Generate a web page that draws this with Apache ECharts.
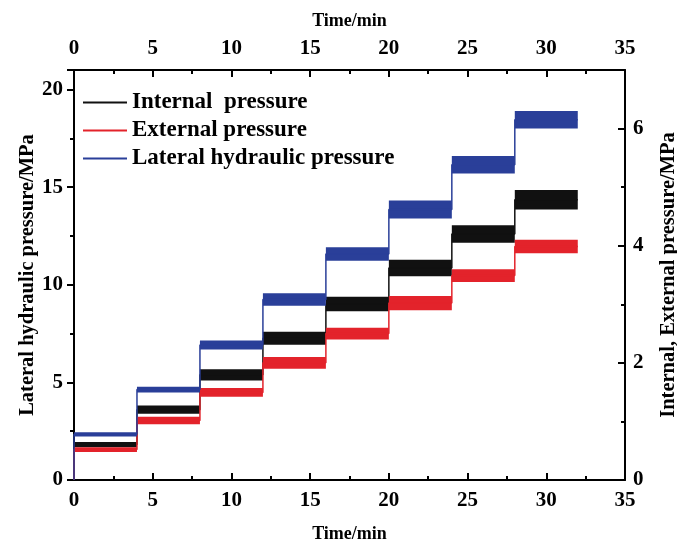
<!DOCTYPE html>
<html>
<head>
<meta charset="utf-8">
<script src="https://cdn.jsdelivr.net/npm/echarts@6/dist/echarts.min.js"></script>
<style>html,body{margin:0;padding:0;background:#fff}#c{width:677px;height:547px}</style>
</head>
<body>
<div id="c"></div>
<script>
// Plateau time spans (min)
const stepStart = [0, 4, 8, 12, 16, 20, 24, 28];
const stepEnd   = [4, 8, 12, 16, 20, 24, 28, 32];
// Lateral hydraulic pressure (MPa, left axis): band low / high per plateau
const lateralLow  = [2.23, 4.48, 6.68, 8.92, 11.23, 13.40, 15.70, 18.00];
const lateralHigh = [2.45, 4.78, 7.15, 9.57, 11.92, 14.32, 16.60, 18.90];
// Internal pressure (MPa, right axis)
const internalLow  = [0.56, 1.13, 1.70, 2.31, 2.88, 3.48, 4.05, 4.62];
const internalHigh = [0.65, 1.27, 1.89, 2.53, 3.13, 3.76, 4.35, 4.95];
// External pressure (MPa, right axis)
const externalLow  = [0.48, 0.95, 1.42, 1.90, 2.40, 2.90, 3.38, 3.87];
const externalHigh = [0.56, 1.08, 1.57, 2.10, 2.60, 3.14, 3.60, 4.10];
// Axis ticks
const timeTicks = [0, 5, 10, 15, 20, 25, 30, 35];
const leftTicks = [0, 5, 10, 15, 20];
const rightTicks = [0, 2, 4, 6];

const names = ['Internal  pressure', 'External pressure', 'Lateral hydraulic pressure'];
const colors = ['#111111', '#e3232b', '#2a3f99'];

function stepLine(low, high) {
  const d = [[0, 0]];
  for (let i = 0; i < stepStart.length; i++) d.push([stepStart[i], (low[i] + high[i]) / 2]);
  d.push([stepEnd[stepEnd.length - 1], (low[low.length - 1] + high[high.length - 1]) / 2]);
  return d;
}
function bands(low, high) {
  return stepStart.map((s, i) => [s, stepEnd[i], low[i], high[i]]);
}
function renderBand(params, api) {
  const p1 = api.coord([api.value(0), api.value(3)]);
  const p2 = api.coord([api.value(1), api.value(2)]);
  return {
    type: 'rect',
    shape: { x: p1[0], y: p1[1], width: p2[0] - p1[0], height: Math.max(1, p2[1] - p1[1]) },
    style: { fill: api.visual('color') }
  };
}

const font = 'Liberation Serif';
const base = { color: '#000', fontFamily: font, fontWeight: 'bold' };
const tickLbl = Object.assign({ fontSize: 21 }, base);
const timeName = Object.assign({ fontSize: 18 }, base);
const yName = Object.assign({ fontSize: 20.5 }, base);
const axLine = { show: true, onZero: false, lineStyle: { color: '#000', width: 2 } };

const seriesData = [
  { low: internalLow, high: internalHigh, y: 1 },
  { low: externalLow, high: externalHigh, y: 1 },
  { low: lateralLow, high: lateralHigh, y: 0 }
];

const series = [];
seriesData.forEach((s, i) => {
  series.push({
    name: names[i], type: 'line', step: 'end', yAxisIndex: s.y, xAxisIndex: 0,
    data: stepLine(s.low, s.high), showSymbol: false, symbol: 'none',
    lineStyle: { color: colors[i], width: 1.5 }, itemStyle: { color: colors[i] },
    z: 3 + i, animation: false
  });
});
seriesData.forEach((s, i) => {
  series.push({
    name: names[i], type: 'custom', yAxisIndex: s.y, xAxisIndex: 0,
    data: bands(s.low, s.high), renderItem: renderBand,
    encode: { x: [0, 1], y: [2, 3] }, itemStyle: { color: colors[i] },
    z: 3 + i, animation: false, clip: true
  });
});

const chart = echarts.init(document.getElementById('c'));
chart.setOption({
  backgroundColor: '#fff',
  animation: false,
  grid: { left: 74, right: 52, top: 70, bottom: 67, containLabel: false, outerBoundsMode: 'none' },
  legend: {
    data: names, orient: 'vertical', left: 78, top: 86, itemGap: 5,
    itemWidth: 44, itemHeight: 2, icon: 'rect',
    textStyle: Object.assign({ fontSize: 23 }, base),
    selectedMode: false
  },
  xAxis: [
    {
      type: 'value', position: 'bottom', min: timeTicks[0], max: timeTicks[timeTicks.length - 1], interval: 5,
      name: 'Time/min', nameLocation: 'middle', nameGap: 45, nameTextStyle: timeName,
      axisLine: axLine, axisTick: { inside: true, length: 7, lineStyle: { color: '#000', width: 2 } },
      minorTick: { show: true, splitNumber: 2, length: 4, lineStyle: { color: '#000', width: 2 } },
      axisLabel: Object.assign({ margin: 10 }, tickLbl), splitLine: { show: false }
    },
    {
      type: 'value', position: 'top', min: timeTicks[0], max: timeTicks[timeTicks.length - 1], interval: 5,
      name: 'Time/min', nameLocation: 'middle', nameGap: 40, nameTextStyle: timeName,
      axisLine: axLine, axisTick: { inside: true, length: 7, lineStyle: { color: '#000', width: 2 } },
      minorTick: { show: true, splitNumber: 2, length: 4, lineStyle: { color: '#000', width: 2 } },
      axisLabel: Object.assign({ margin: 11 }, tickLbl), splitLine: { show: false }
    }
  ],
  yAxis: [
    {
      type: 'value', position: 'left', min: leftTicks[0], max: 21, interval: 5,
      name: 'Lateral hydraulic pressure/MPa', nameLocation: 'middle', nameGap: 36, nameTextStyle: yName,
      nameMoveOverlap: false,
      axisLine: axLine, axisTick: { inside: false, length: 7, lineStyle: { color: '#000', width: 2 } },
      minorTick: { show: true, splitNumber: 2, length: 4, lineStyle: { color: '#000', width: 2 } },
      axisLabel: Object.assign({ margin: 11, showMaxLabel: false,
        formatter: v => (leftTicks.indexOf(v) >= 0 ? String(v) : '') }, tickLbl),
      splitLine: { show: false }
    },
    {
      type: 'value', position: 'right', min: rightTicks[0], max: 7, interval: 2,
      name: 'Internal, External pressure/MPa', nameLocation: 'middle', nameGap: 33, nameTextStyle: yName,
      nameMoveOverlap: false,
      axisLine: axLine, axisTick: { inside: true, length: 7, lineStyle: { color: '#000', width: 2 } },
      minorTick: { show: true, splitNumber: 2, length: 4, lineStyle: { color: '#000', width: 2 } },
      axisLabel: Object.assign({ margin: 8, showMaxLabel: false,
        formatter: v => (rightTicks.indexOf(v) >= 0 ? String(v) : '') }, tickLbl),
      splitLine: { show: false }
    }
  ],
  series: series
});
</script>
</body>
</html>
